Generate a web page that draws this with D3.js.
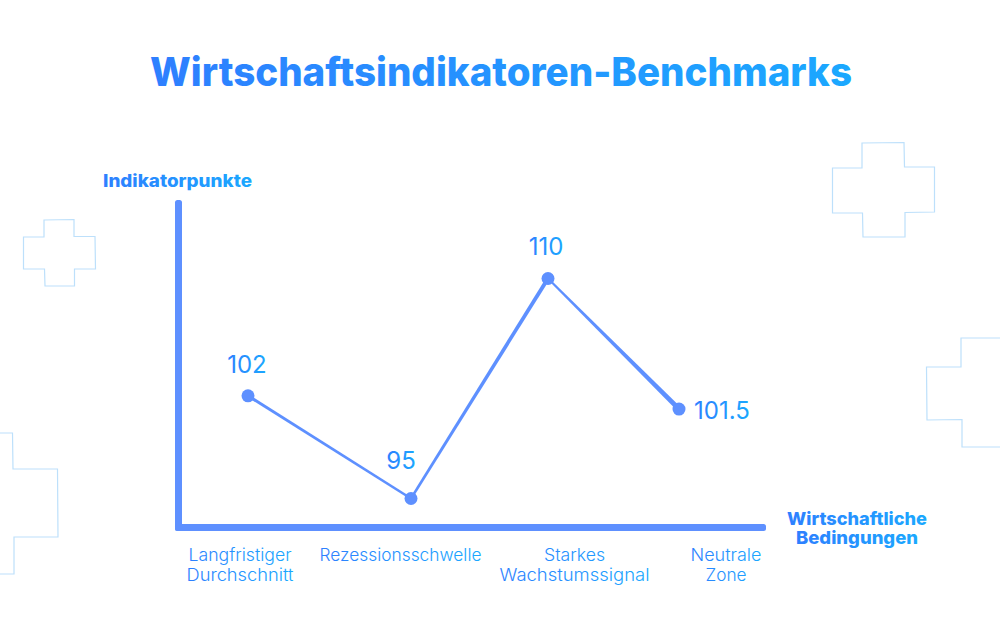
<!DOCTYPE html>
<html>
<head>
<meta charset="utf-8">
<script src="https://cdn.jsdelivr.net/npm/d3@7"></script>
<style>
  html, body { margin: 0; padding: 0; background: #fff; }
  svg { display: block; font-family: "Inter", sans-serif; }
</style>
</head>
<body>
<div id="chart"></div>
<script>
const titleText = 'Wirtschaftsindikatoren-Benchmarks';
const yAxisTitle = 'Indikatorpunkte';
const xAxisTitle = ['Wirtschaftliche', 'Bedingungen'];
const categories = ['Langfristiger Durchschnitt', 'Rezessionsschwelle', 'Starkes Wachstumssignal', 'Neutrale Zone'];
const categoryLines = [['Langfristiger', 'Durchschnitt'], ['Rezessionsschwelle'], ['Starkes', 'Wachstumssignal'], ['Neutrale', 'Zone']];
// the last point sits lower in the picture than its printed label says
const values = [102, 95, 110, 101.1];
const valueLabels = ['102', '95', '110', '101.5'];

const width = 1000, height = 644;

const svg = d3.select('#chart').append('svg')
    .attr('width', width)
    .attr('height', height);

const defs = svg.append('defs');
const grad = defs.append('linearGradient').attr('id', 'textGrad');
grad.append('stop').attr('offset', '0%').attr('stop-color', '#2e7fff');
grad.append('stop').attr('offset', '100%').attr('stop-color', '#1ba8ff');

// background crosses
const crosses = [
    [[44, 220], [74, 219.5], [74, 236.5], [95, 236.5], [95.5, 269], [74.5, 269], [74.5, 286], [45, 286], [44.5, 269], [23.5, 269], [23.5, 237], [44, 237]],
    [[862, 143], [904, 142.5], [904.5, 167], [934.5, 167], [934.5, 212], [905, 212.5], [905, 237], [863, 237], [862.5, 213], [832.5, 213], [832.5, 168], [862, 168]]
];
const openCrosses = [
    [[-2, 433], [12.5, 433], [13, 469], [57.5, 469], [58, 537], [14, 537], [14, 574], [-2, 574]],
    [[1002, 338], [961, 338], [961, 367], [926.5, 367], [927, 420], [962, 419.5], [962, 447], [1002, 447]]
];
const shapeLine = d3.line();
svg.append('g').selectAll('path')
    .data(crosses.map(d => shapeLine(d) + 'Z').concat(openCrosses.map(d => shapeLine(d))))
    .join('path')
    .attr('d', d => d)
    .attr('fill', 'none')
    .attr('stroke', '#bde0fb')
    .attr('stroke-width', 1.2);

const xScale = d3.scaleOrdinal().domain(categories).range([248, 411, 548, 679]);
const labelScale = d3.scaleOrdinal().domain(categories).range([239.5, 400, 574, 725.5]);
const yScale = d3.scaleLinear().domain([95, 110]).range([498.5, 278.5]);

// title
svg.append('text')
    .attr('x', 501)
    .attr('y', 86)
    .attr('text-anchor', 'middle')
    .attr('font-size', 40)
    .attr('font-weight', 800)
    .attr('fill', 'url(#textGrad)')
    .attr('textLength', 702)
    .attr('lengthAdjust', 'spacingAndGlyphs')
    .text(titleText);

// axis bars
svg.append('rect').attr('x', 175).attr('y', 200).attr('width', 7).attr('height', 331).attr('rx', 2.5).attr('fill', '#5e90ff');
svg.append('rect').attr('x', 175).attr('y', 524).attr('width', 591).attr('height', 7).attr('rx', 2.5).attr('fill', '#5e90ff');

// category labels
const lineWidths = [[103, 107], [162], [61, 150], [71, 41]];
const xAxis = svg.append('g')
    .attr('transform', 'translate(0,531)')
    .call(d3.axisBottom(labelScale).tickSize(0));
xAxis.select('.domain').remove();
xAxis.selectAll('.tick text').each(function (d, i) {
    const t = d3.select(this).text(null)
        .attr('y', null).attr('dy', null)
        .attr('font-size', 17)
        .attr('font-family', 'Inter, sans-serif')
        .attr('font-weight', 300)
        .attr('fill', 'url(#textGrad)');
    categoryLines[i].forEach((line, j) => {
        t.append('tspan')
            .attr('x', 0)
            .attr('y', 30 + j * 20)
            .attr('textLength', lineWidths[i][j])
            .attr('lengthAdjust', 'spacingAndGlyphs')
            .text(line);
    });
});

// axis titles
svg.append('text')
    .attr('x', 103)
    .attr('y', 187)
    .attr('font-size', 17)
    .attr('font-weight', 800)
    .attr('fill', 'url(#textGrad)')
    .attr('textLength', 149)
    .attr('lengthAdjust', 'spacingAndGlyphs')
    .text(yAxisTitle);

const xTitleWidths = [140, 122];
xAxisTitle.forEach((line, i) => {
    svg.append('text')
        .attr('x', 857)
        .attr('y', 525 + i * 19)
        .attr('text-anchor', 'middle')
        .attr('font-size', 18)
        .attr('font-weight', 800)
        .attr('fill', 'url(#textGrad)')
        .attr('textLength', xTitleWidths[i])
        .attr('lengthAdjust', 'spacingAndGlyphs')
        .text(line);
});

// line: each segment is a thin wedge, the stroke swells toward one end in the picture
const segmentWidths = [[3, 2.5], [2.5, 4], [2, 5]];
const segments = d3.pairs(values.map((d, i) => [xScale(categories[i]), yScale(d)]));
svg.append('g').selectAll('path')
    .data(segments)
    .join('path')
    .attr('d', ([a, b], i) => {
        const len = Math.hypot(b[0] - a[0], b[1] - a[1]);
        const nx = -(b[1] - a[1]) / len, ny = (b[0] - a[0]) / len;
        const [w0, w1] = segmentWidths[i];
        return shapeLine([
            [a[0] + nx * w0 / 2, a[1] + ny * w0 / 2],
            [b[0] + nx * w1 / 2, b[1] + ny * w1 / 2],
            [b[0] - nx * w1 / 2, b[1] - ny * w1 / 2],
            [a[0] - nx * w0 / 2, a[1] - ny * w0 / 2]
        ]) + 'Z';
    })
    .attr('fill', '#5e90ff');

svg.append('g').selectAll('circle')
    .data(values)
    .join('circle')
    .attr('cx', (d, i) => xScale(categories[i]))
    .attr('cy', d => yScale(d))
    .attr('r', 6.5)
    .attr('fill', '#5e90ff');

// value labels
const labelOffset = [[-1, -23], [-10, -30], [-2, -24], [43, 10]];
svg.append('g').selectAll('text')
    .data(values)
    .join('text')
    .attr('x', (d, i) => xScale(categories[i]) + labelOffset[i][0])
    .attr('y', (d, i) => yScale(d) + labelOffset[i][1])
    .attr('text-anchor', 'middle')
    .attr('font-size', 24)
    .attr('fill', 'url(#textGrad)')
    .text((d, i) => valueLabels[i]);
</script>
</body>
</html>
